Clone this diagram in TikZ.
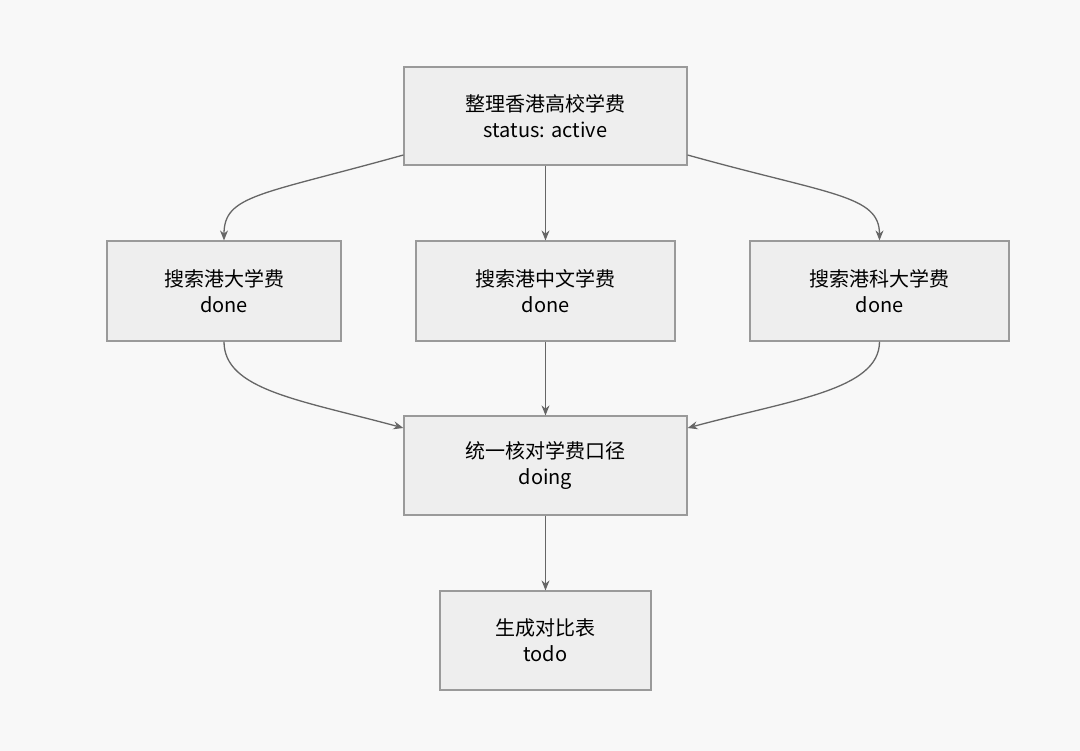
\documentclass[tikz,border=0pt]{standalone}
\usepackage{fontspec}
\setmainfont{Noto Sans CJK SC}
\usetikzlibrary{arrows.meta}
\definecolor{bg}{HTML}{F8F8F8}
\definecolor{boxfill}{HTML}{EEEEEE}
\definecolor{boxline}{HTML}{9A9A9A}
\definecolor{edgecol}{HTML}{666666}
\tikzset{
  task/.style={draw=boxline,fill=boxfill,line width=1.2pt,align=center,
    inner sep=0pt,font=\fontsize{20}{26}\selectfont},
  flow/.style={draw=edgecol,line width=1.3pt,-{Stealth[length=10pt,width=8pt]}}
}
\begin{document}
\begin{tikzpicture}[x=1pt,y=-1pt]
\fill[bg] (0,0) rectangle (1080,751);
\useasboundingbox (0,0) rectangle (1080,751);
% tasks
\node[task,minimum width=283pt,minimum height=98pt] (root) at (545.5,116) {整理香港高校学费\\status: active};
\node[task,minimum width=234pt,minimum height=100pt] (hku) at (224,291) {搜索港大学费\\done};
\node[task,minimum width=259pt,minimum height=100pt] (cuhk) at (545.5,291) {搜索港中文学费\\done};
\node[task,minimum width=259pt,minimum height=100pt] (hkust) at (879.5,291) {搜索港科大学费\\done};
\node[task,minimum width=283pt,minimum height=99pt] (check) at (545.5,465.5) {统一核对学费口径\\doing};
\node[task,minimum width=211pt,minimum height=99pt] (table) at (545.5,640.5) {生成对比表\\todo};
% edges
\draw[flow] ([yshift=-39pt]root.west) .. controls (260,195) and (224,195) .. (hku.north);
\draw[flow] (root) -- (cuhk);
\draw[flow] ([yshift=-39pt]root.east) .. controls (831,195) and (879.5,195) .. (hkust.north);
\draw[flow] (hku.south) .. controls (224,390) and (300,400) .. ([yshift=37.5pt]check.west);
\draw[flow] (cuhk) -- (check);
\draw[flow] (hkust.south) .. controls (879.5,390) and (791,400) .. ([yshift=37.5pt]check.east);
\draw[flow] (check) -- (table);
\end{tikzpicture}
\end{document}
